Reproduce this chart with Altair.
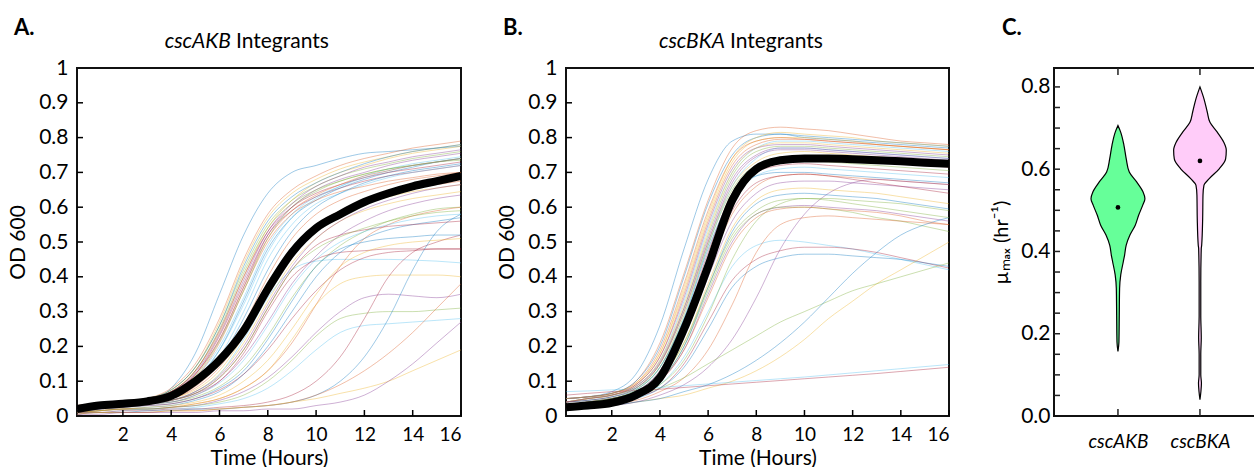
import altair as alt
import pandas as pd

# ---------------- data ----------------
HOURS = [0.1, 1, 2, 3, 4, 5, 6, 7, 8, 9, 10, 11, 12, 13, 14, 15, 16]

A_CURVES = [
    [0.02, 0.025, 0.03, 0.04, 0.08, 0.18, 0.35, 0.52, 0.64, 0.70, 0.72, 0.74, 0.755, 0.76, 0.765, 0.77, 0.775],
    [0.03, 0.035, 0.04, 0.05, 0.08, 0.15, 0.28, 0.45, 0.58, 0.65, 0.69, 0.72, 0.74, 0.755, 0.77, 0.78, 0.79],
    [0.03, 0.035, 0.04, 0.05, 0.07, 0.13, 0.24, 0.40, 0.54, 0.62, 0.67, 0.70, 0.72, 0.74, 0.755, 0.765, 0.775],
    [0.02, 0.03, 0.035, 0.045, 0.065, 0.12, 0.22, 0.37, 0.52, 0.60, 0.65, 0.68, 0.70, 0.72, 0.735, 0.745, 0.755],
    [0.03, 0.035, 0.04, 0.05, 0.075, 0.14, 0.26, 0.42, 0.55, 0.62, 0.66, 0.69, 0.71, 0.725, 0.74, 0.75, 0.76],
    [0.02, 0.03, 0.035, 0.045, 0.06, 0.11, 0.20, 0.34, 0.49, 0.58, 0.63, 0.66, 0.69, 0.71, 0.725, 0.735, 0.745],
    [0.03, 0.035, 0.04, 0.05, 0.07, 0.12, 0.23, 0.38, 0.52, 0.59, 0.63, 0.655, 0.675, 0.69, 0.70, 0.71, 0.72],
    [0.02, 0.03, 0.035, 0.04, 0.06, 0.10, 0.19, 0.33, 0.48, 0.57, 0.62, 0.655, 0.68, 0.70, 0.715, 0.73, 0.74],
    [0.02, 0.025, 0.03, 0.04, 0.05, 0.08, 0.14, 0.24, 0.37, 0.48, 0.55, 0.59, 0.62, 0.64, 0.655, 0.665, 0.675],
    [0.02, 0.025, 0.03, 0.035, 0.045, 0.07, 0.12, 0.21, 0.33, 0.44, 0.51, 0.56, 0.59, 0.61, 0.625, 0.635, 0.645],
    [0.02, 0.025, 0.03, 0.035, 0.045, 0.065, 0.10, 0.17, 0.27, 0.38, 0.46, 0.52, 0.56, 0.59, 0.61, 0.625, 0.635],
    [0.02, 0.025, 0.03, 0.035, 0.04, 0.055, 0.085, 0.14, 0.23, 0.34, 0.43, 0.49, 0.53, 0.56, 0.58, 0.595, 0.60],
    [0.02, 0.025, 0.03, 0.035, 0.045, 0.07, 0.12, 0.22, 0.34, 0.42, 0.445, 0.45, 0.45, 0.45, 0.448, 0.445, 0.44],
    [0.02, 0.025, 0.03, 0.035, 0.04, 0.06, 0.10, 0.18, 0.30, 0.40, 0.45, 0.47, 0.475, 0.48, 0.48, 0.48, 0.48],
    [0.01, 0.015, 0.02, 0.025, 0.03, 0.045, 0.07, 0.12, 0.20, 0.30, 0.40, 0.47, 0.51, 0.535, 0.55, 0.56, 0.57],
    [0.01, 0.015, 0.02, 0.02, 0.025, 0.035, 0.05, 0.08, 0.13, 0.21, 0.32, 0.43, 0.51, 0.55, 0.575, 0.59, 0.60],
    [0.01, 0.015, 0.02, 0.02, 0.025, 0.035, 0.05, 0.08, 0.13, 0.22, 0.32, 0.38, 0.40, 0.405, 0.405, 0.405, 0.40],
    [0.01, 0.015, 0.02, 0.02, 0.025, 0.03, 0.045, 0.07, 0.11, 0.17, 0.24, 0.30, 0.34, 0.35, 0.345, 0.34, 0.35],
    [0.01, 0.015, 0.02, 0.02, 0.025, 0.03, 0.04, 0.06, 0.10, 0.16, 0.23, 0.28, 0.295, 0.30, 0.30, 0.305, 0.31],
    [0.01, 0.01, 0.015, 0.02, 0.02, 0.025, 0.035, 0.05, 0.08, 0.13, 0.19, 0.24, 0.26, 0.265, 0.27, 0.275, 0.28],
    [0.01, 0.01, 0.015, 0.015, 0.02, 0.02, 0.025, 0.03, 0.04, 0.06, 0.10, 0.17, 0.28, 0.40, 0.47, 0.50, 0.52],
    [0.005, 0.01, 0.01, 0.015, 0.015, 0.02, 0.02, 0.025, 0.03, 0.04, 0.06, 0.10, 0.17, 0.28, 0.42, 0.53, 0.58],
    [0.005, 0.01, 0.01, 0.01, 0.015, 0.015, 0.02, 0.025, 0.03, 0.04, 0.06, 0.09, 0.13, 0.18, 0.24, 0.31, 0.38],
    [0.005, 0.01, 0.01, 0.01, 0.015, 0.015, 0.02, 0.025, 0.03, 0.04, 0.05, 0.065, 0.08, 0.10, 0.13, 0.16, 0.19],
    [0.005, 0.005, 0.01, 0.01, 0.01, 0.01, 0.015, 0.015, 0.02, 0.02, 0.03, 0.04, 0.06, 0.10, 0.15, 0.21, 0.27],
    [0.03, 0.035, 0.04, 0.05, 0.07, 0.13, 0.25, 0.41, 0.54, 0.61, 0.65, 0.675, 0.695, 0.71, 0.72, 0.73, 0.74],
    [0.02, 0.03, 0.035, 0.04, 0.055, 0.09, 0.17, 0.30, 0.45, 0.55, 0.61, 0.64, 0.665, 0.685, 0.70, 0.71, 0.72],
    [0.02, 0.025, 0.03, 0.035, 0.045, 0.065, 0.11, 0.19, 0.31, 0.42, 0.49, 0.52, 0.535, 0.545, 0.55, 0.555, 0.56],
    [0.01, 0.02, 0.025, 0.03, 0.035, 0.05, 0.08, 0.13, 0.22, 0.33, 0.43, 0.48, 0.50, 0.51, 0.515, 0.52, 0.52],
    [0.02, 0.03, 0.035, 0.045, 0.065, 0.11, 0.21, 0.36, 0.50, 0.58, 0.62, 0.645, 0.66, 0.675, 0.685, 0.695, 0.70],
    [0.03, 0.035, 0.04, 0.05, 0.075, 0.14, 0.27, 0.44, 0.57, 0.64, 0.68, 0.71, 0.73, 0.745, 0.76, 0.77, 0.78],
    [0.03, 0.035, 0.04, 0.05, 0.07, 0.125, 0.235, 0.39, 0.53, 0.61, 0.66, 0.69, 0.715, 0.73, 0.745, 0.755, 0.765],
    [0.02, 0.03, 0.035, 0.045, 0.065, 0.115, 0.215, 0.36, 0.51, 0.60, 0.645, 0.675, 0.695, 0.71, 0.72, 0.73, 0.735],
    [0.02, 0.03, 0.035, 0.045, 0.06, 0.105, 0.19, 0.32, 0.47, 0.57, 0.625, 0.66, 0.685, 0.705, 0.72, 0.73, 0.74],
    [0.03, 0.035, 0.04, 0.05, 0.07, 0.13, 0.245, 0.40, 0.53, 0.60, 0.64, 0.665, 0.685, 0.70, 0.71, 0.72, 0.73],
    [0.02, 0.025, 0.03, 0.04, 0.055, 0.09, 0.16, 0.28, 0.42, 0.53, 0.60, 0.64, 0.67, 0.69, 0.705, 0.715, 0.725],
    [0.02, 0.025, 0.03, 0.04, 0.05, 0.085, 0.15, 0.26, 0.40, 0.51, 0.58, 0.62, 0.645, 0.665, 0.68, 0.69, 0.70],
    [0.02, 0.025, 0.03, 0.035, 0.05, 0.075, 0.13, 0.23, 0.36, 0.47, 0.54, 0.58, 0.61, 0.63, 0.645, 0.655, 0.665],
    [0.02, 0.025, 0.03, 0.035, 0.045, 0.07, 0.115, 0.20, 0.32, 0.43, 0.51, 0.56, 0.595, 0.62, 0.64, 0.655, 0.665],
    [0.02, 0.025, 0.03, 0.035, 0.045, 0.065, 0.11, 0.19, 0.31, 0.42, 0.48, 0.515, 0.54, 0.56, 0.575, 0.585, 0.59],
    [0.02, 0.025, 0.03, 0.035, 0.04, 0.06, 0.095, 0.16, 0.26, 0.37, 0.45, 0.50, 0.53, 0.55, 0.565, 0.575, 0.58],
    [0.01, 0.02, 0.025, 0.03, 0.035, 0.05, 0.075, 0.12, 0.19, 0.28, 0.36, 0.42, 0.455, 0.47, 0.475, 0.48, 0.48],
    [0.03, 0.035, 0.04, 0.05, 0.075, 0.14, 0.26, 0.43, 0.56, 0.63, 0.67, 0.70, 0.725, 0.745, 0.76, 0.77, 0.78],
    [0.02, 0.03, 0.035, 0.045, 0.065, 0.12, 0.22, 0.37, 0.51, 0.59, 0.635, 0.665, 0.69, 0.705, 0.72, 0.73, 0.74],
    [0.01, 0.015, 0.02, 0.025, 0.03, 0.04, 0.06, 0.10, 0.16, 0.25, 0.35, 0.43, 0.47, 0.49, 0.50, 0.505, 0.51],
]
A_MEAN = [0.02, 0.03, 0.035, 0.042, 0.058, 0.10, 0.16, 0.245, 0.365, 0.47, 0.54, 0.58, 0.615, 0.64, 0.66, 0.675, 0.69]

B_CURVES = [
    [0.05, 0.055, 0.07, 0.12, 0.26, 0.48, 0.68, 0.79, 0.81, 0.81, 0.80, 0.795, 0.79, 0.785, 0.78, 0.775, 0.77],
    [0.05, 0.055, 0.065, 0.10, 0.21, 0.41, 0.62, 0.77, 0.82, 0.83, 0.825, 0.82, 0.81, 0.80, 0.79, 0.785, 0.78],
    [0.04, 0.05, 0.06, 0.09, 0.18, 0.36, 0.57, 0.73, 0.79, 0.80, 0.80, 0.795, 0.79, 0.78, 0.775, 0.77, 0.765],
    [0.05, 0.055, 0.065, 0.09, 0.17, 0.34, 0.55, 0.71, 0.77, 0.78, 0.78, 0.775, 0.77, 0.765, 0.76, 0.755, 0.75],
    [0.04, 0.045, 0.055, 0.08, 0.15, 0.31, 0.52, 0.69, 0.76, 0.775, 0.775, 0.77, 0.765, 0.76, 0.755, 0.75, 0.745],
    [0.04, 0.05, 0.06, 0.085, 0.16, 0.33, 0.54, 0.70, 0.77, 0.79, 0.79, 0.785, 0.78, 0.775, 0.77, 0.765, 0.76],
    [0.03, 0.04, 0.05, 0.07, 0.13, 0.27, 0.47, 0.64, 0.72, 0.74, 0.745, 0.74, 0.735, 0.73, 0.725, 0.72, 0.715],
    [0.04, 0.045, 0.055, 0.075, 0.14, 0.28, 0.48, 0.63, 0.69, 0.70, 0.70, 0.695, 0.69, 0.685, 0.68, 0.675, 0.67],
    [0.03, 0.04, 0.05, 0.07, 0.12, 0.24, 0.42, 0.58, 0.66, 0.69, 0.695, 0.69, 0.685, 0.68, 0.675, 0.67, 0.665],
    [0.03, 0.035, 0.045, 0.065, 0.11, 0.21, 0.38, 0.54, 0.62, 0.65, 0.655, 0.65, 0.645, 0.64, 0.63, 0.62, 0.61],
    [0.03, 0.035, 0.045, 0.06, 0.10, 0.19, 0.35, 0.50, 0.58, 0.60, 0.605, 0.60, 0.595, 0.59, 0.58, 0.57, 0.56],
    [0.03, 0.035, 0.045, 0.06, 0.10, 0.20, 0.36, 0.51, 0.58, 0.60, 0.60, 0.595, 0.585, 0.57, 0.56, 0.545, 0.53],
    [0.02, 0.03, 0.04, 0.055, 0.09, 0.17, 0.30, 0.43, 0.49, 0.505, 0.50, 0.49, 0.48, 0.465, 0.45, 0.435, 0.42],
    [0.02, 0.03, 0.04, 0.055, 0.08, 0.15, 0.27, 0.39, 0.45, 0.475, 0.485, 0.485, 0.48, 0.47, 0.455, 0.44, 0.425],
    [0.02, 0.03, 0.04, 0.05, 0.08, 0.14, 0.25, 0.37, 0.43, 0.455, 0.465, 0.465, 0.46, 0.455, 0.45, 0.44, 0.43],
    [0.02, 0.025, 0.035, 0.045, 0.07, 0.11, 0.19, 0.32, 0.47, 0.55, 0.57, 0.575, 0.57, 0.565, 0.56, 0.555, 0.55],
    [0.02, 0.025, 0.03, 0.04, 0.05, 0.06, 0.08, 0.10, 0.13, 0.17, 0.22, 0.28, 0.33, 0.38, 0.42, 0.46, 0.50],
    [0.02, 0.025, 0.03, 0.04, 0.06, 0.09, 0.14, 0.22, 0.34, 0.48, 0.58, 0.64, 0.67, 0.68, 0.675, 0.67, 0.665],
    [0.03, 0.04, 0.05, 0.06, 0.08, 0.11, 0.15, 0.19, 0.23, 0.27, 0.30, 0.33, 0.36, 0.38, 0.40, 0.42, 0.44],
    [0.07, 0.072, 0.075, 0.078, 0.082, 0.087, 0.092, 0.097, 0.102, 0.107, 0.112, 0.118, 0.124, 0.13, 0.136, 0.142, 0.148],
    [0.06, 0.065, 0.07, 0.073, 0.077, 0.082, 0.087, 0.092, 0.097, 0.102, 0.107, 0.112, 0.117, 0.122, 0.128, 0.134, 0.14],
    [0.02, 0.025, 0.03, 0.04, 0.05, 0.07, 0.09, 0.12, 0.16, 0.21, 0.27, 0.34, 0.41, 0.47, 0.52, 0.55, 0.57],
    [0.05, 0.055, 0.065, 0.095, 0.19, 0.38, 0.59, 0.74, 0.79, 0.80, 0.795, 0.79, 0.785, 0.78, 0.775, 0.77, 0.765],
    [0.04, 0.05, 0.06, 0.08, 0.15, 0.30, 0.50, 0.66, 0.73, 0.755, 0.76, 0.755, 0.75, 0.745, 0.74, 0.735, 0.73],
    [0.03, 0.04, 0.05, 0.07, 0.12, 0.23, 0.40, 0.56, 0.64, 0.67, 0.675, 0.675, 0.67, 0.665, 0.66, 0.655, 0.65],
    [0.03, 0.035, 0.045, 0.06, 0.09, 0.16, 0.29, 0.45, 0.56, 0.61, 0.625, 0.625, 0.62, 0.615, 0.61, 0.60, 0.59],
    [0.04, 0.05, 0.06, 0.08, 0.14, 0.28, 0.49, 0.66, 0.74, 0.77, 0.77, 0.765, 0.76, 0.755, 0.75, 0.745, 0.74],
    [0.03, 0.04, 0.05, 0.07, 0.13, 0.26, 0.45, 0.62, 0.70, 0.72, 0.725, 0.72, 0.715, 0.71, 0.705, 0.70, 0.695],
    [0.05, 0.055, 0.065, 0.10, 0.20, 0.40, 0.61, 0.75, 0.80, 0.81, 0.805, 0.80, 0.795, 0.79, 0.785, 0.78, 0.775],
    [0.04, 0.05, 0.06, 0.09, 0.17, 0.35, 0.56, 0.72, 0.78, 0.795, 0.795, 0.79, 0.785, 0.78, 0.775, 0.77, 0.765],
    [0.04, 0.05, 0.06, 0.085, 0.16, 0.32, 0.53, 0.70, 0.77, 0.785, 0.785, 0.78, 0.775, 0.77, 0.765, 0.76, 0.755],
    [0.04, 0.045, 0.055, 0.08, 0.15, 0.30, 0.50, 0.67, 0.745, 0.765, 0.765, 0.76, 0.755, 0.75, 0.745, 0.74, 0.735],
    [0.03, 0.04, 0.05, 0.075, 0.14, 0.29, 0.49, 0.65, 0.72, 0.735, 0.735, 0.73, 0.725, 0.72, 0.715, 0.71, 0.705],
    [0.03, 0.04, 0.05, 0.07, 0.13, 0.26, 0.46, 0.62, 0.69, 0.71, 0.715, 0.71, 0.705, 0.70, 0.695, 0.69, 0.685],
    [0.03, 0.035, 0.045, 0.065, 0.12, 0.24, 0.43, 0.59, 0.67, 0.69, 0.695, 0.69, 0.68, 0.67, 0.66, 0.65, 0.64],
    [0.03, 0.035, 0.045, 0.06, 0.10, 0.20, 0.37, 0.53, 0.61, 0.635, 0.64, 0.635, 0.63, 0.625, 0.615, 0.605, 0.595],
    [0.03, 0.035, 0.045, 0.06, 0.10, 0.19, 0.34, 0.49, 0.57, 0.595, 0.60, 0.595, 0.59, 0.585, 0.575, 0.56, 0.55],
    [0.05, 0.055, 0.065, 0.095, 0.18, 0.37, 0.58, 0.74, 0.80, 0.815, 0.81, 0.805, 0.80, 0.79, 0.785, 0.78, 0.775],
    [0.04, 0.05, 0.06, 0.085, 0.155, 0.31, 0.51, 0.68, 0.75, 0.77, 0.77, 0.765, 0.76, 0.755, 0.75, 0.745, 0.74],
    [0.03, 0.04, 0.05, 0.07, 0.11, 0.21, 0.37, 0.52, 0.59, 0.62, 0.625, 0.62, 0.61, 0.60, 0.59, 0.58, 0.57],
]
B_MEAN = [0.025, 0.03, 0.038, 0.06, 0.11, 0.25, 0.43, 0.62, 0.71, 0.735, 0.74, 0.74, 0.738, 0.735, 0.732, 0.728, 0.725]

LINE_COLORS = ["#0072BD", "#D95319", "#EDB120", "#7E2F8E", "#77AC30", "#4DBEEE", "#A2142F"]

TIME_LABELS = [2, 4, 6, 8, 10, 12, 14, 16]
OD_LABELS = [0, 0.1, 0.2, 0.3, 0.4, 0.5, 0.6, 0.7, 0.8, 0.9, 1]
OD_TICKS = [0.1, 0.2, 0.3, 0.4, 0.5, 0.6, 0.7, 0.8, 0.9]

# violin profiles: (mu value, half width in category units)
GROUPS = ["cscAKB", "cscBKA"]
GROUP_POS = [1, 2]
GROUP_COLORS = ["#66ff99", "#ffccf9"]
AKB_MU = [0.157, 0.18, 0.245, 0.31, 0.343, 0.375, 0.39, 0.415, 0.44, 0.464, 0.488, 0.512, 0.528, 0.545, 0.569, 0.593, 0.625, 0.658, 0.69, 0.706]
AKB_W = [0.0, 0.012, 0.016, 0.02, 0.034, 0.065, 0.08, 0.1, 0.146, 0.211, 0.252, 0.301, 0.329, 0.305, 0.228, 0.138, 0.101, 0.073, 0.033, 0.0]
BKA_MU = [0.04, 0.06, 0.08, 0.1, 0.15, 0.19, 0.245, 0.327, 0.407, 0.415, 0.48, 0.537, 0.561, 0.577, 0.601, 0.625, 0.646, 0.666, 0.69, 0.714, 0.739, 0.771, 0.8]
BKA_W = [0.0, 0.012, 0.018, 0.01, 0.01, 0.016, 0.01, 0.01, 0.016, 0.021, 0.033, 0.037, 0.049, 0.113, 0.235, 0.313, 0.321, 0.289, 0.211, 0.122, 0.089, 0.049, 0.0]
MEDIANS = [0.507, 0.62]

MU_LABELS = [0.0, 0.2, 0.4, 0.6, 0.8]
MU_TICKS = [0.05, 0.1, 0.15, 0.2, 0.25, 0.3, 0.35, 0.4, 0.45, 0.5, 0.55, 0.6, 0.65, 0.7, 0.75, 0.8]

FONT = "Lato"
H = 348
LEFT, TOP = 77, 68


def line_panel(curves, mean, letter, gene, width, title_split):
    rows = []
    for i, c in enumerate(curves):
        for t, v in zip(HOURS, c):
            rows.append({"curve": i, "grp": str(i % len(LINE_COLORS)), "t": t, "od": v})
    df = pd.DataFrame(rows)
    xs = alt.Scale(domain=[0.1, 16], nice=False, zero=False)
    ys = alt.Scale(domain=[0, 1], nice=False)
    xa = alt.Axis(values=TIME_LABELS, title="Time (Hours)", ticks=False, tickSize=0, domain=False, grid=False,
                  labelFontSize=19, labelPadding=9, titleFontSize=21, titlePadding=3)
    ya = alt.Axis(values=OD_LABELS, format="~g", title="OD 600", ticks=False, tickSize=0, domain=False, grid=False,
                  labelFontSize=21, labelPadding=9, titleFontSize=21, titlePadding=10)
    thin = alt.Chart(df).mark_line(strokeWidth=1, opacity=0.38, clip=True, interpolate="monotone").encode(
        x=alt.X("t:Q", scale=xs, axis=xa),
        y=alt.Y("od:Q", scale=ys, axis=ya),
        color=alt.Color("grp:N", scale=alt.Scale(domain=[str(k) for k in range(len(LINE_COLORS))], range=LINE_COLORS), legend=None),
        detail="curve:N",
    )
    mdf = pd.DataFrame({"t": HOURS, "od": mean})
    meanline = alt.Chart(mdf).mark_line(color="black", strokeWidth=8, clip=True, interpolate="monotone").encode(
        x=alt.X("t:Q", scale=xs, axis=xa), y=alt.Y("od:Q", scale=ys, axis=ya))
    yt = alt.Chart(pd.DataFrame({"od": OD_TICKS})).mark_rule(color="black", strokeWidth=1.5).encode(
        y=alt.Y("od:Q", scale=ys, axis=ya), x=alt.value(0), x2=alt.value(6))
    xt = alt.Chart(pd.DataFrame({"t": TIME_LABELS})).mark_rule(color="black", strokeWidth=1.5).encode(
        x=alt.X("t:Q", scale=xs, axis=xa), y=alt.value(H), y2=alt.value(H - 6))
    tdf = pd.DataFrame({"g": [gene], "rest": ["Integrants"], "letter": [letter]})
    t1 = alt.Chart(tdf).mark_text(font=FONT, fontSize=21, fontStyle="italic", align="right", baseline="alphabetic").encode(
        text="g:N", x=alt.value(title_split - 2), y=alt.value(-20))
    t2 = alt.Chart(tdf).mark_text(font=FONT, fontSize=21, align="left", baseline="alphabetic").encode(
        text="rest:N", x=alt.value(title_split + 3), y=alt.value(-20))
    t3 = alt.Chart(tdf).mark_text(font=FONT, fontSize=22, fontWeight="bold", align="left", baseline="alphabetic").encode(
        text="letter:N", x=alt.value(-63), y=alt.value(-33))
    return alt.layer(thin, meanline, yt, xt, t1, t2, t3).properties(width=width, height=H)


panel_a = line_panel(A_CURVES, A_MEAN, "A.", "cscAKB", 384, 156)
panel_b = line_panel(B_CURVES, B_MEAN, "B.", "cscBKA", 383, 161)

# ---- panel C: violins ----
WC = 206
vrows = []
for g, p, mus, ws in [(GROUPS[0], GROUP_POS[0], AKB_MU, AKB_W), (GROUPS[1], GROUP_POS[1], BKA_MU, BKA_W)]:
    for m, w in zip(mus, ws):
        vrows.append({"grp": g, "pos": p, "mu": m, "w": w})
vdf = pd.DataFrame(vrows)
cxs = alt.Scale(domain=[0.22, 0.22 + WC / 82.0], nice=False, zero=False)
cys = alt.Scale(domain=[0, 0.846], nice=False)
label_expr = " : ".join([f"datum.value == {p} ? '{g}'" for p, g in zip(GROUP_POS, GROUPS)]) + " : ''"
cxa = alt.Axis(values=GROUP_POS, labelExpr=label_expr, title=None, ticks=False, tickSize=0, domain=False, grid=False,
               labelFontSize=19, labelFontStyle="italic", labelPadding=16)
cya = alt.Axis(values=MU_LABELS, format=".1f", title="µₘₐₓ (hr⁻¹)", ticks=False, tickSize=0, domain=False, grid=False,
               labelFontSize=21, labelPadding=4, titleFontSize=20, titlePadding=9)

violin = alt.Chart(vdf).transform_calculate(
    lo="datum.pos - datum.w", hi="datum.pos + datum.w"
).mark_area(orient="horizontal", interpolate="monotone", stroke="black", strokeWidth=1.2).encode(
    y=alt.Y("mu:Q", scale=cys, axis=cya),
    x=alt.X("lo:Q", scale=cxs, axis=cxa),
    x2="hi:Q",
    fill=alt.Fill("grp:N", scale=alt.Scale(domain=GROUPS, range=GROUP_COLORS), legend=None),
)
med = alt.Chart(pd.DataFrame({"lo": GROUP_POS, "mu": MEDIANS})).mark_point(filled=True, color="black", size=22, opacity=1).encode(
    x=alt.X("lo:Q", scale=cxs, axis=cxa), y=alt.Y("mu:Q", scale=cys, axis=cya))
cyt = alt.Chart(pd.DataFrame({"mu": MU_TICKS})).mark_rule(color="#222", strokeWidth=1.5).encode(
    y=alt.Y("mu:Q", scale=cys, axis=cya), x=alt.value(0), x2=alt.value(6))
cyr = alt.Chart(pd.DataFrame({"mu": MU_LABELS[1:]})).mark_rule(color="#222", strokeWidth=1.5).encode(
    y=alt.Y("mu:Q", scale=cys, axis=cya), x=alt.value(WC - 6), x2=alt.value(WC))
cxb = alt.Chart(pd.DataFrame({"lo": GROUP_POS})).mark_rule(color="#222", strokeWidth=1.5).encode(
    x=alt.X("lo:Q", scale=cxs, axis=cxa), y=alt.value(H), y2=alt.value(H - 7))
cxt = alt.Chart(pd.DataFrame({"lo": GROUP_POS})).mark_rule(color="#222", strokeWidth=1.5).encode(
    x=alt.X("lo:Q", scale=cxs, axis=cxa), y=alt.value(0), y2=alt.value(7))
cletter = alt.Chart(pd.DataFrame({"letter": ["C."]})).mark_text(font=FONT, fontSize=22, fontWeight="bold", align="left", baseline="alphabetic").encode(
    text="letter:N", x=alt.value(-52), y=alt.value(-33))
panel_c = alt.layer(violin, med, cyt, cyr, cxb, cxt, cletter).properties(width=WC, height=H)

chart = alt.hconcat(panel_a, panel_b, panel_c, spacing=105, bounds="flush").properties(
    autosize=alt.AutoSizeParams(type="none"),
    padding={"left": LEFT, "top": TOP, "right": 1254 - LEFT, "bottom": 467 - TOP},
).configure_view(stroke="#111", strokeWidth=2).configure_axis(
    labelFont=FONT, titleFont=FONT, labelColor="black", titleColor="black", titleFontWeight="normal"
)

chart.save("out.html", embed_options={"renderer": "svg", "actions": False})
